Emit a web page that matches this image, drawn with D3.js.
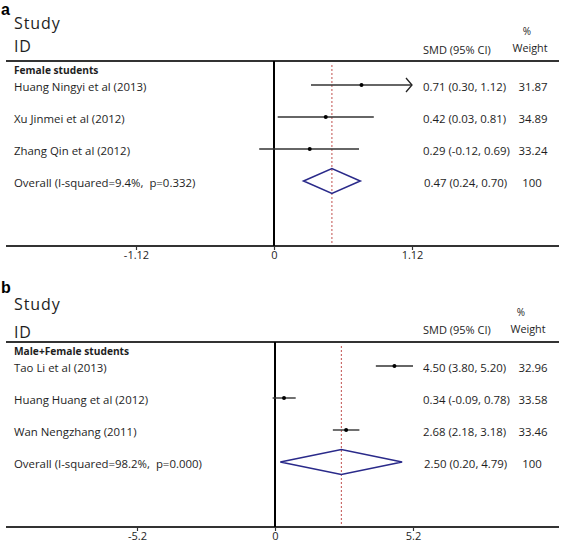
<!DOCTYPE html>
<html>
<head>
<meta charset="utf-8">
<script src="https://cdn.jsdelivr.net/npm/d3@7"></script>
<style>
  html, body { margin: 0; padding: 0; background: #fff; }
  svg { display: block; }
  text { font-family: "Open Sans", "DejaVu Sans", sans-serif; fill: #1e1e1e; white-space: pre; }
</style>
</head>
<body>
<svg id="chart" width="567" height="543"></svg>
<script>
// ---------------- Data ----------------
// Panel a
const studiesA = ["Huang Ningyi et al (2013)", "Xu Jinmei et al (2012)", "Zhang Qin et al (2012)"];
const smdA     = [0.71, 0.42, 0.29];
const lowA     = [0.30, 0.03, -0.12];
const highA    = [1.12, 0.81, 0.69];
const ciTextA  = ["0.71 (0.30, 1.12)", "0.42 (0.03, 0.81)", "0.29 (-0.12, 0.69)"];
const weightA  = ["31.87", "34.89", "33.24"];
const overallA = [0.47, 0.24, 0.70];
const overallLabelA = "Overall (I-squared=9.4%,  p=0.332)";
const overallTextA  = "0.47 (0.24, 0.70)";
const ticksA   = [-1.12, 0, 1.12];
const groupA   = "Female students";

// Panel b
const studiesB = ["Tao Li et al (2013)", "Huang Huang et al (2012)", "Wan Nengzhang (2011)"];
const smdB     = [4.50, 0.34, 2.68];
const lowB     = [3.80, -0.09, 2.18];
const highB    = [5.20, 0.78, 3.18];
const ciTextB  = ["4.50 (3.80, 5.20)", "0.34 (-0.09, 0.78)", "2.68 (2.18, 3.18)"];
const weightB  = ["32.96", "33.58", "33.46"];
const overallB = [2.50, 0.20, 4.79];
const overallLabelB = "Overall (I-squared=98.2%,  p=0.000)";
const overallTextB  = "2.50 (0.20, 4.79)";
const ticksB   = [-5.2, 0, 5.2];
const groupB   = "Male+Female students";

// arrows drawn where the CI reaches the axis limit (panel a, first study)
const arrowA = [true, false, false];
const arrowB = [false, false, false];

// ---------------- Drawing ----------------
const svg = d3.select("#chart");
const FS = "11.4px";

function drawPanel(cfg) {
  const g = svg.append("g");
  const x = d3.scaleLinear().domain([cfg.ticks[0], cfg.ticks[2]]).range([cfg.x0, cfg.x1]);
  const rowY = i => cfg.top + 24 + i * 32;

  // panel letter
  g.append("text").attr("x", 1).attr("y", cfg.letterY)
    .style("font-family", "Arial, 'Liberation Sans', sans-serif")
    .style("font-weight", "bold").style("font-size", "16px").style("fill", "#000")
    .text(cfg.letter);

  // headers
  g.append("text").attr("x", 14).attr("y", cfg.studyY).style("font-size", "16px")
    .style("letter-spacing", "0.9px").text("Study");
  g.append("text").attr("x", 14).attr("y", cfg.idY).style("font-size", "16px")
    .style("letter-spacing", "0.9px").text("ID");
  g.append("text").attr("x", cfg.pctX).attr("y", cfg.pctY).attr("text-anchor", "middle")
    .style("font-size", "10px").text("%");
  g.append("text").attr("x", cfg.weightX).attr("y", cfg.weightY).attr("text-anchor", "middle")
    .style("font-size", "10.8px").text("Weight");
  g.append("text").attr("x", 423).attr("y", cfg.smdY)
    .style("font-size", "11px").text("SMD (95% CI)");

  // top and bottom rule lines
  g.append("line").attr("x1", 6).attr("x2", 559).attr("y1", cfg.top).attr("y2", cfg.top)
    .attr("stroke", "#333").attr("stroke-width", 2);
  g.append("line").attr("x1", 6).attr("x2", 559).attr("y1", cfg.bottom).attr("y2", cfg.bottom)
    .attr("stroke", "#333").attr("stroke-width", 2);

  // axis ticks & labels
  const axis = d3.axisBottom(x).tickValues(cfg.ticks).tickSize(4)
    .tickFormat(d => d === 0 ? "0" : String(d));
  const ag = g.append("g").attr("transform", `translate(0,${cfg.bottom})`).call(axis);
  ag.select(".domain").remove();
  ag.selectAll(".tick line").attr("stroke", "#333").attr("stroke-width", 1.2);
  ag.selectAll(".tick text").attr("dy", "0.55em")
    .style("font-family", "'Open Sans', sans-serif").style("font-size", "11px").style("fill", "#1e1e1e");

  // zero line
  g.append("line").attr("x1", x(0)).attr("x2", x(0)).attr("y1", cfg.top).attr("y2", cfg.bottom)
    .attr("stroke", "#000").attr("stroke-width", 2);

  // overall dashed line
  g.append("line").attr("x1", x(cfg.overall[0])).attr("x2", x(cfg.overall[0]))
    .attr("y1", cfg.top + 4).attr("y2", cfg.bottom - 1)
    .attr("stroke", "#c0504d").attr("stroke-width", 1).attr("stroke-dasharray", "2,2");

  // group heading
  g.append("text").attr("x", 14).attr("y", cfg.top + 13)
    .style("font-size", "10.2px").style("font-weight", "bold").text(cfg.group);

  // studies
  cfg.studies.forEach((s, i) => {
    const y = rowY(i);
    g.append("text").attr("x", 14).attr("y", y + 6).style("font-size", FS).text(s);
    g.append("line").attr("x1", x(cfg.low[i])).attr("x2", x(cfg.high[i]))
      .attr("y1", y).attr("y2", y).attr("stroke", "#333").attr("stroke-width", 1.4);
    if (cfg.arrow[i]) {
      const xe = x(cfg.high[i]);
      g.append("path").attr("d", `M${xe - 6},${y - 7} L${xe},${y} L${xe - 6},${y + 7}`)
        .attr("fill", "none").attr("stroke", "#222").attr("stroke-width", 1.3);
    }
    g.append("circle").attr("cx", x(cfg.smd[i])).attr("cy", y).attr("r", 2).attr("fill", "#000");
    g.append("text").attr("x", 423).attr("y", y + 6).style("font-size", FS).text(cfg.ciText[i]);
    g.append("text").attr("x", 533).attr("y", y + 6).attr("text-anchor", "middle")
      .style("font-size", FS).text(cfg.weight[i]);
  });

  // overall
  const yo = rowY(cfg.studies.length);
  g.append("text").attr("x", 14).attr("y", yo + 6).style("font-size", FS).text(cfg.overallLabel);
  const [est, lo, hi] = cfg.overall;
  g.append("path")
    .attr("d", `M${x(lo)},${yo} L${x(est)},${yo - 12.5} L${x(hi)},${yo} L${x(est)},${yo + 12.5} Z`)
    .attr("fill", "none").attr("stroke", "#2a2a8a").attr("stroke-width", 1.6);
  g.append("text").attr("x", 424).attr("y", yo + 6).style("font-size", FS).text(cfg.overallText);
  g.append("text").attr("x", 532).attr("y", yo + 6).attr("text-anchor", "middle")
    .style("font-size", FS).text("100");
}

drawPanel({
  letter: "a", letterY: 14.6, studyY: 29, idY: 52, pctX: 527, pctY: 35, weightX: 530, weightY: 52,
  smdY: 54, top: 61, bottom: 246, x0: 136, x1: 412,
  ticks: ticksA, studies: studiesA, smd: smdA, low: lowA, high: highA, ciText: ciTextA,
  weight: weightA, overall: overallA, overallLabel: overallLabelA, overallText: overallTextA,
  group: groupA, arrow: arrowA
});

drawPanel({
  letter: "b", letterY: 293, studyY: 310, idY: 338, pctX: 521, pctY: 316, weightX: 528, weightY: 333,
  smdY: 334, top: 342, bottom: 527, x0: 137, x1: 413,
  ticks: ticksB, studies: studiesB, smd: smdB, low: lowB, high: highB, ciText: ciTextB,
  weight: weightB, overall: overallB, overallLabel: overallLabelB, overallText: overallTextB,
  group: groupB, arrow: arrowB
});
</script>
</body>
</html>
